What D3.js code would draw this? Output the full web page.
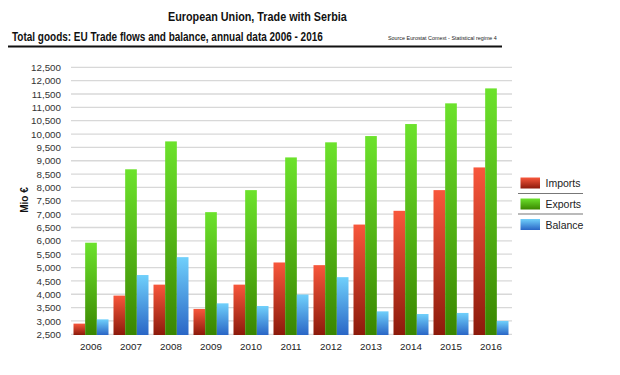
<!DOCTYPE html>
<html><head><meta charset="utf-8">
<script src="https://cdn.jsdelivr.net/npm/d3@7"></script>
<style>body{margin:0;background:#fff}svg{display:block}text{font-family:"Liberation Sans",Arial,Helvetica,sans-serif}</style>
</head><body>
<script>
const years = ["2006","2007","2008","2009","2010","2011","2012","2013","2014","2015","2016"];
const imports = [2900,3950,4360,3450,4360,5190,5090,6610,7125,7900,8750];
const exports = [5930,8680,9725,7075,7900,9125,9690,9925,10375,11150,11710];
const balance = [3060,4720,5390,3660,3560,3990,4640,3360,3260,3300,3000];
const seriesNames = ["Imports","Exports","Balance"];
const yTicks = d3.range(2500, 12501, 500);

const W = 620, H = 375;
const svg = d3.select("body").append("svg").attr("width", W).attr("height", H);
const defs = svg.append("defs");
const grads = [
  {id:"gI", top:"#f8573c", bot:"#8c1a0b"},
  {id:"gE", top:"#6ce22c", bot:"#3a8600"},
  {id:"gB", top:"#70d0fb", bot:"#2a66c6"}
];
grads.forEach(g => {
  const lg = defs.append("linearGradient").attr("id", g.id).attr("x1",0).attr("y1",0).attr("x2",0).attr("y2",1);
  lg.append("stop").attr("offset","0%").attr("stop-color", g.top);
  lg.append("stop").attr("offset","100%").attr("stop-color", g.bot);
});

// fit a text horizontally to a target width by scaling its group
function fitText(x, yy, width, size, weight, str) {
  const grp = svg.append("g");
  const t = grp.append("text").attr("x", 0).attr("y", 0)
    .attr("font-size", size).attr("font-weight", weight).attr("fill", "#111").text(str);
  const w = t.node().getComputedTextLength();
  grp.attr("transform", `translate(${x},${yy}) scale(${width / w},1)`);
  return t;
}

// titles
fitText(168, 20.5, 179, 12, "bold", "European Union, Trade with Serbia");
fitText(12, 41, 311, 12.8, "bold", "Total goods: EU Trade flows and balance, annual data 2006 - 2016");
fitText(388, 40, 109, 5.6, "normal", "Source Eurostat Comext  - Statistical regime 4").attr("fill", "#222");
svg.append("line").attr("x1", 8).attr("x2", 502).attr("y1", 46.5).attr("y2", 46.5).attr("stroke","#111").attr("stroke-width", 2);

const y = d3.scaleLinear().domain([2500, 12500]).range([334.3, 67.3]);
const x0 = d3.scaleBand().domain(years).range([71, 511]).paddingInner(0.125).paddingOuter(0.0625);
const x1 = d3.scaleBand().domain(seriesNames).range([0, x0.bandwidth()]);

// grid + y axis
const yAxis = d3.axisLeft(y).tickValues(yTicks).tickSize(0).tickPadding(0)
  .tickFormat(d3.format(","));
const gy = svg.append("g").attr("transform","translate(61,0)").call(yAxis);
gy.select(".domain").remove();
gy.selectAll("text").attr("font-size", 9.8).attr("fill","#333").attr("font-family",'"Liberation Sans",Arial,sans-serif');

svg.append("g").selectAll("line").data(yTicks).join("line")
  .attr("x1", 71).attr("x2", 512).attr("y1", d => y(d)).attr("y2", d => y(d))
  .attr("stroke","#d8d8d8").attr("stroke-width",1.3);

svg.append("text").attr("transform","translate(28,200) rotate(-90)").attr("text-anchor","middle")
  .attr("font-size", 10).attr("font-weight","bold").attr("fill","#111").text("Mio €");

// bars
const data = years.map((yr,i) => ({year: yr, vals: [imports[i], exports[i], balance[i]]}));
const gradIds = ["gI","gE","gB"];
const g = svg.append("g").selectAll("g").data(data).join("g")
  .attr("transform", d => `translate(${x0(d.year)},0)`);
g.selectAll("rect").data(d => d.vals.map((v,k) => ({v, k}))).join("rect")
  .attr("x", d => x1(seriesNames[d.k]))
  .attr("width", x1.bandwidth())
  .attr("y", d => y(d.v))
  .attr("height", d => y(2500) - y(d.v) + 0.7)
  .attr("fill", d => `url(#${gradIds[d.k]})`);

// x axis labels
const xAxis = d3.axisBottom(x0).tickSize(0).tickPadding(0);
const gx = svg.append("g").attr("transform","translate(0,343)").call(xAxis);
gx.select(".domain").remove();
gx.selectAll("text").attr("font-size", 9.8).attr("fill","#222").attr("font-family",'"Liberation Sans",Arial,sans-serif');

// legend
const lg = svg.append("g");
const legY = [177.5, 198.5, 219];
seriesNames.forEach((s,k) => {
  lg.append("rect").attr("x", 520.5).attr("y", legY[k]).attr("width", 19.5).attr("height", 11)
    .attr("fill", `url(#${gradIds[k]})`);
  lg.append("text").attr("x", 545.5).attr("y", legY[k] + 9.5).attr("font-size", 10.5).attr("fill","#222").text(s);
});
[193.5, 214].forEach(yy => lg.append("line").attr("x1",518).attr("x2",583).attr("y1",yy).attr("y2",yy)
  .attr("stroke","#777").attr("stroke-width",1.2));
</script>
</body></html>
